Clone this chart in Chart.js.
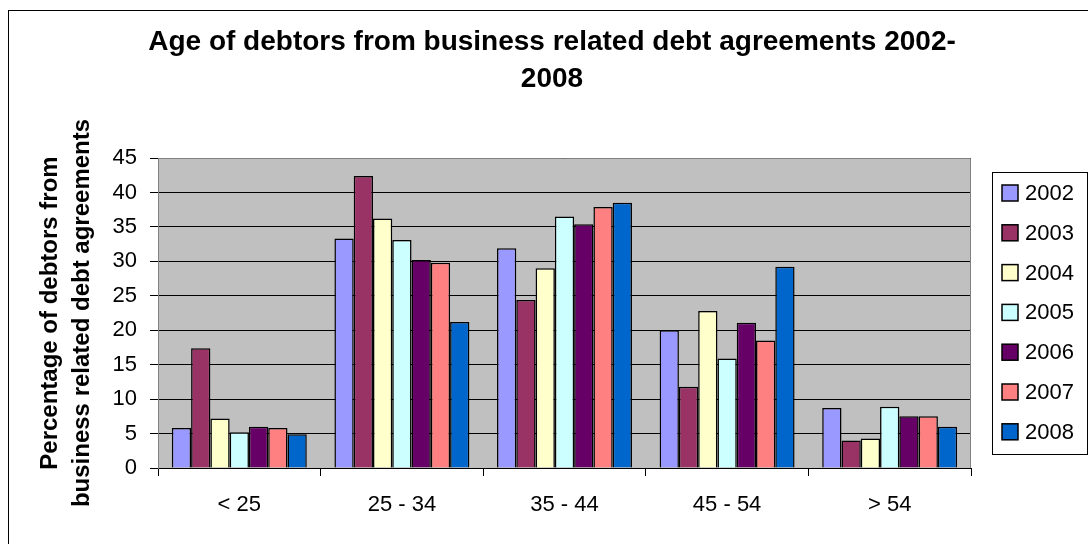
<!DOCTYPE html>
<html>
<head>
<meta charset="utf-8">
<script src="https://cdn.jsdelivr.net/npm/chart.js@4/dist/chart.umd.min.js"></script>
<style>
  html, body { margin: 0; padding: 0; background: #fff; }
  #wrap { width: 1088px; height: 544px; }
</style>
</head>
<body>
<div id="wrap"><canvas id="debtChart" width="1088" height="544"></canvas></div>
<script>
const ageGroups = ['< 25', '25 - 34', '35 - 44', '45 - 54', '> 54'];
const years = ['2002', '2003', '2004', '2005', '2006', '2007', '2008'];

// percentages per year, one value per age group
const y2002 = [5.8, 33.3, 31.9, 20.0, 8.7];
const y2003 = [17.4, 42.4, 24.4, 11.8, 4.0];
const y2004 = [7.2, 36.2, 29.0, 22.8, 4.3];
const y2005 = [5.2, 33.1, 36.5, 15.9, 8.9];
const y2006 = [6.0, 30.2, 35.4, 21.1, 7.5];
const y2007 = [5.8, 29.8, 37.9, 18.5, 7.5];
const y2008 = [4.9, 21.2, 38.5, 29.2, 6.0];

const yTicks = [0, 5, 10, 15, 20, 25, 30, 35, 40, 45];

const seriesValues = [y2002, y2003, y2004, y2005, y2006, y2007, y2008];
const seriesColors = ['#9999FF', '#993366', '#FFFFCC', '#CCFFFF', '#660066', '#FF8080', '#0066CC'];

Chart.defaults.font.family = '"Liberation Sans", Arial, sans-serif';
Chart.defaults.color = '#000';

// grey plot area, outer frame and the boxed legend
const excelLook = {
  id: 'excelLook',
  beforeDraw(chart) {
    const { ctx, chartArea: a } = chart;
    ctx.save();
    ctx.fillStyle = '#fff';
    ctx.fillRect(0, 0, chart.width, chart.height);
    ctx.fillStyle = '#C0C0C0';
    ctx.fillRect(a.left, a.top, a.right - a.left, a.bottom - a.top);
    ctx.restore();
  },
  afterDraw(chart) {
    const { ctx, chartArea: a } = chart;
    ctx.save();
    ctx.lineWidth = 1;
    ctx.strokeStyle = '#808080';
    ctx.beginPath();
    ctx.moveTo(a.left, a.top + 0.5);
    ctx.lineTo(a.right - 0.5, a.top + 0.5);
    ctx.lineTo(a.right - 0.5, a.bottom);
    ctx.stroke();

    ctx.strokeStyle = '#000';
    ctx.strokeRect(8.5, 10.5, 2000, 2000);

    // legend
    ctx.strokeRect(992.5, 172.5, 95, 282);
    ctx.font = '22px "Liberation Sans", Arial, sans-serif';
    ctx.textBaseline = 'middle';
    ctx.textAlign = 'left';
    chart.data.datasets.forEach((ds, i) => {
      const cy = 193 + i * 39.8;
      ctx.fillStyle = ds.backgroundColor;
      ctx.fillRect(1002, cy - 8, 16, 16);
      ctx.strokeStyle = '#000';
      ctx.lineWidth = 1.5;
      ctx.strokeRect(1002, cy - 8, 16, 16);
      ctx.fillStyle = '#000';
      ctx.fillText(ds.label, 1025, cy + 1);
    });
    ctx.restore();
  }
};

const ctx = document.getElementById('debtChart').getContext('2d');
new Chart(ctx, {
  type: 'bar',
  data: {
    labels: ageGroups,
    datasets: years.map((yr, i) => ({
      label: yr,
      data: seriesValues[i],
      backgroundColor: seriesColors[i],
      borderColor: '#000',
      borderWidth: 1.5,
      categoryPercentage: 0.83,
      barPercentage: 1.0
    }))
  },
  options: {
    responsive: false,
    animation: false,
    layout: { padding: { left: 16, right: 0, top: 0, bottom: 0 } },
    plugins: {
      legend: { display: false },
      tooltip: { enabled: false },
      title: {
        display: true,
        text: ['Age of debtors from business related debt agreements 2002-', '2008'],
        font: { size: 28, weight: 'bold', lineHeight: '37px' },
        color: '#000',
        padding: { top: 24, bottom: 60 }
      }
    },
    scales: {
      x: {
        grid: { display: true, drawOnChartArea: false, drawTicks: true, tickLength: 8, color: '#000', offset: true },
        border: { color: '#000', width: 1 },
        ticks: { font: { size: 22 }, padding: 16, color: '#000' },
        afterFit(s) { s.height = 76; }
      },
      y: {
        min: 0,
        max: 45,
        afterBuildTicks(s) { s.ticks = yTicks.map(v => ({ value: v })); },
        grid: { color: '#000', lineWidth: 1, tickLength: 8 },
        border: { color: '#808080', width: 1 },
        ticks: { font: { size: 22 }, padding: 13, color: '#000' },
        title: {
          display: true,
          text: ['Percentage of debtors from', 'business related debt agreements'],
          font: { size: 24, weight: 'bold', lineHeight: '32px' },
          color: '#000',
          padding: { top: 18, bottom: 0 }
        },
        afterFit(s) { s.width = 142; }
      },
      yRight: {
        position: 'right',
        display: true,
        grid: { display: false },
        border: { display: false },
        ticks: { display: false },
        afterFit(s) { s.width = 117; }
      }
    }
  },
  plugins: [excelLook]
});
</script>
</body>
</html>
